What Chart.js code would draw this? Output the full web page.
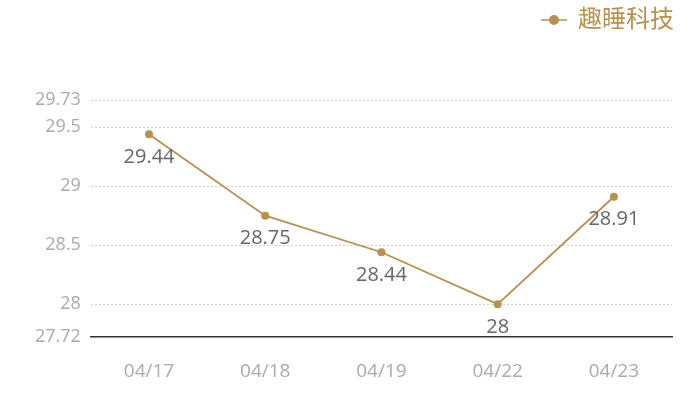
<!DOCTYPE html>
<html>
<head>
<meta charset="utf-8">
<script src="https://cdn.jsdelivr.net/npm/chart.js@4/dist/chart.umd.min.js"></script>
<style>
  html, body { margin: 0; padding: 0; background: #fff; }
  #wrap { width: 700px; height: 400px; }
</style>
</head>
<body>
<div id="wrap"><canvas id="chart"></canvas></div>
<script>
// data
const labels = ["04/17", "04/18", "04/19", "04/22", "04/23"];
const seriesName = "趣睡科技";
const values = [29.44, 28.75, 28.44, 28, 28.91];
const yTicks = [27.72, 28, 28.5, 29, 29.5, 29.73];

const gold = "#b8914f";
const fontFamily = "'Open Sans', 'Noto Sans CJK SC', sans-serif";

// legend marker: short line with a dot
function makeMarker() {
    const c = document.createElement("canvas");
    c.width = 26;
    c.height = 12;
    const g = c.getContext("2d");
    g.strokeStyle = gold;
    g.lineWidth = 1.5;
    g.beginPath();
    g.moveTo(0, 6);
    g.lineTo(26, 6);
    g.stroke();
    g.fillStyle = gold;
    g.beginPath();
    g.arc(13, 6, 5, 0, Math.PI * 2);
    g.fill();
    return c;
}
const marker = makeMarker();

// extra room under the legend, and nudge it to the right edge
const legendSpace = {
    id: "legendSpace",
    beforeInit(chart) {
        const lg = chart.legend;
        const origFit = lg.fit;
        lg.fit = function () {
            origFit.bind(lg)();
            this.height += 58;
        };
        const origDraw = lg.draw;
        lg.draw = function () {
            const ctx = chart.ctx;
            ctx.save();
            ctx.translate(10, 0);
            origDraw.bind(lg)();
            ctx.restore();
        };
    }
};

// simple value labels under each point
const pointLabels = {
    id: "pointLabels",
    afterDatasetsDraw(chart) {
        const ctx = chart.ctx;
        const meta = chart.getDatasetMeta(0);
        ctx.save();
        ctx.fillStyle = "#666";
        ctx.font = "20px " + fontFamily;
        ctx.textAlign = "center";
        ctx.textBaseline = "middle";
        meta.data.forEach((pt, i) => {
            ctx.fillText(String(values[i]), pt.x, pt.y + 23);
        });
        ctx.restore();
    }
};

new Chart(document.getElementById("chart"), {
    type: "line",
    data: {
        labels: labels,
        datasets: [{
            label: seriesName,
            data: values,
            borderColor: gold,
            backgroundColor: gold,
            borderWidth: 1.8,
            pointRadius: 4,
            pointHoverRadius: 5,
            pointBackgroundColor: gold,
            pointBorderWidth: 0,
            tension: 0
        }]
    },
    options: {
        responsive: true,
        maintainAspectRatio: false,
        animation: false,
        layout: { padding: { left: 25, right: 28, top: 0, bottom: 2 } },
        plugins: {
            legend: {
                display: true,
                position: "top",
                align: "end",
                labels: {
                    color: gold,
                    font: { size: 24, family: fontFamily },
                    usePointStyle: true,
                    pointStyle: marker,
                    padding: 8
                }
            },
            tooltip: { enabled: true }
        },
        scales: {
            x: {
                offset: true,
                grid: { display: false },
                border: { display: true, color: "#333", width: 1.5 },
                ticks: {
                    color: "#aaa",
                    font: { size: 19, family: fontFamily },
                    padding: 15
                }
            },
            y: {
                min: 27.72,
                max: 29.73,
                afterBuildTicks: (axis) => {
                    axis.ticks = yTicks.map(v => ({ value: v }));
                },
                border: { display: false, dash: [2, 2] },
                grid: {
                    drawTicks: false,
                    color: (c) => c.tick && c.tick.value === 27.72 ? "rgba(0,0,0,0)" : "#d0d0d0"
                },
                ticks: {
                    color: "#aaa",
                    font: { size: 18, family: fontFamily },
                    padding: 10,
                    callback: (v) => String(v)
                }
            }
        }
    },
    plugins: [legendSpace, pointLabels]
});
</script>
</body>
</html>
